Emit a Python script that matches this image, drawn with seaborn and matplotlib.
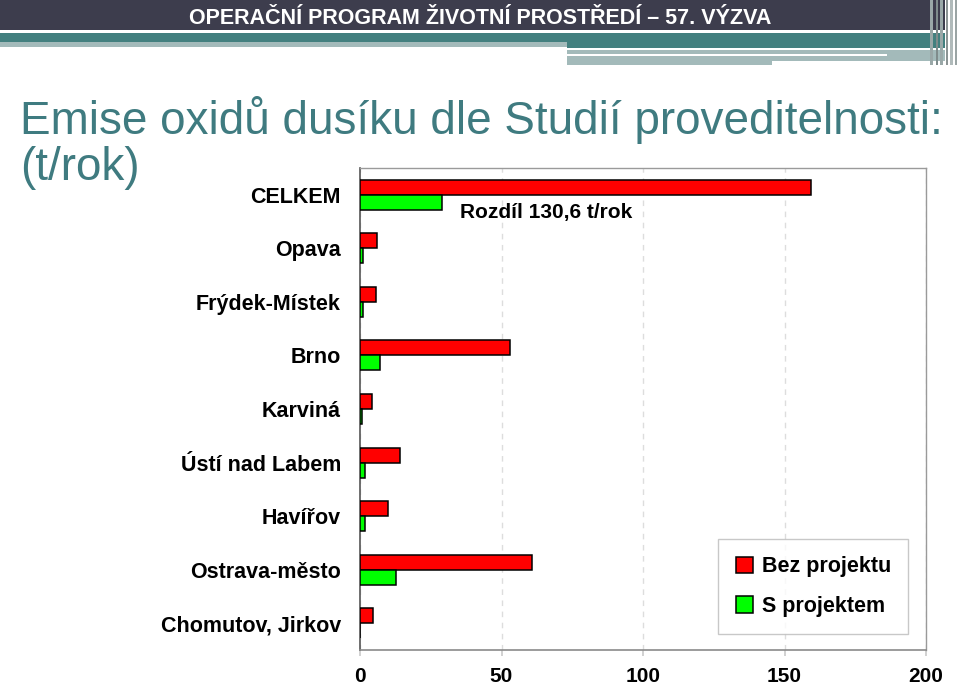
import matplotlib
matplotlib.use("Agg")
import matplotlib.pyplot as plt
import seaborn as sns
import pandas as pd
from matplotlib.patches import Rectangle

categories = ["CELKEM", "Opava", "Frýdek-Místek", "Brno", "Karviná",
              "Ústí nad Labem", "Havířov", "Ostrava-město", "Chomutov, Jirkov"]
bez_projektu = [159.4, 6.0, 5.7, 53.0, 4.2, 14.1, 9.9, 60.8, 4.6]
s_projektem = [28.8, 1.1, 1.1, 7.1, 0.8, 1.8, 1.8, 12.7, 0.0]
series_names = ["Bez projektu", "S projektem"]
x_ticks = [0, 50, 100, 150, 200]

df = pd.DataFrame({
    "kategorie": categories * 2,
    "hodnota": bez_projektu + s_projektem,
    "serie": [series_names[0]] * len(categories) + [series_names[1]] * len(categories),
})

sns.set_theme(style="white")
plt.rcParams['font.family'] = ['Liberation Sans', 'DejaVu Sans']

fig = plt.figure(figsize=(9.6, 6.91), dpi=100)

# ---- decorative header ----
def px_rect(x0, y0, x1, y1, color):
    fig.patches.append(Rectangle((x0 / 960, 1 - y1 / 691), (x1 - x0) / 960, (y1 - y0) / 691,
                                 transform=fig.transFigure, color=color, zorder=0, lw=0))

px_rect(0, 0, 945, 30, "#3d3d4d")
px_rect(0, 33, 945, 42, "#43807f")
px_rect(567, 42, 945, 48, "#43807f")
px_rect(0, 42, 567, 47, "#a3baba")
px_rect(567, 50, 945, 56, "#a3baba")
px_rect(567, 54, 887, 56, "#ffffff")
px_rect(567, 56, 772, 65, "#a3baba")
px_rect(772, 56, 945, 61, "#a3baba")
for xs, w, c in [(930, 3, "#9aa8a8"), (936, 2, "#7f8c8c"), (940, 3, "#9aa8a8"), (946, 2, "#8c9494"),
                 (950, 3, "#b0baba"), (955, 2, "#9aa4a4")]:
    px_rect(xs, 0, xs + w, 65, c)

fig.text(480 / 960, 1 - 18 / 691, "OPERAČNÍ PROGRAM ŽIVOTNÍ PROSTŘEDÍ – 57. VÝZVA",
         color="white", fontsize=15.5, fontweight="bold", ha="center", va="center")

fig.text(20 / 960, 1 - 120 / 691, "Emise oxidů dusíku dle Studií proveditelnosti:",
         color="#3f7b80", fontsize=33, ha="left", va="center")
fig.text(20 / 960, 1 - 168 / 691, "(t/rok)", color="#3f7b80", fontsize=33,
         ha="left", va="center")

# ---- chart ----
ax = fig.add_axes([360 / 960, 1 - 650 / 691, (926 - 360) / 960, (650 - 168) / 691])
sns.barplot(data=df, y="kategorie", x="hodnota", hue="serie", orient="h",
            palette=["#ff0000", "#00ff00"], saturation=1, edgecolor="black", linewidth=1.1,
            width=0.56, ax=ax, zorder=3)

ax.set_xlim(0, 200)
ax.set_ylim(len(categories) - 0.5, -0.5)
ax.set_xticks(x_ticks)
ax.set_xticklabels([str(t) for t in x_ticks], fontsize=15, fontweight="bold", color="black")
ax.tick_params(axis="x", length=4, color="#cccccc", pad=8, bottom=True)
ax.tick_params(axis="y", length=0, pad=13.7, labelsize=15.5)
ax.set_xlabel("")
ax.set_ylabel("")
for t in ax.get_yticklabels():
    t.set_fontweight("bold")
    t.set_color("black")
ax.xaxis.grid(True, linestyle=(0, (4, 4)), color="#dddddd", linewidth=1, zorder=0)
ax.set_axisbelow(True)
for s in ["top", "right"]:
    ax.spines[s].set_color("#9a9a9a")
    ax.spines[s].set_linewidth(1)
ax.spines["bottom"].set_color("#8a8a8a")
ax.spines["bottom"].set_linewidth(1.2)
ax.spines["left"].set_color("#555555")
ax.spines["left"].set_linewidth(1.2)

ax.text(35.3, 0.33, "Rozdíl 130,6 t/rok", fontsize=15, fontweight="bold",
        ha="left", va="center", color="black", zorder=5)

leg = ax.legend(loc="lower right", bbox_to_anchor=((908 - 360) / 566, (650 - 634) / 482),
                frameon=True, fancybox=False, edgecolor="#bbbbbb",
                prop={"weight": "bold", "size": 15.5}, handlelength=0.8, handleheight=0.8,
                handletextpad=0.4, labelspacing=0.85, borderpad=0.8, borderaxespad=0)
leg.get_frame().set_linewidth(1)
for t in leg.get_texts():
    t.set_color("black")

fig.savefig("out.png", dpi=100, facecolor="white")
